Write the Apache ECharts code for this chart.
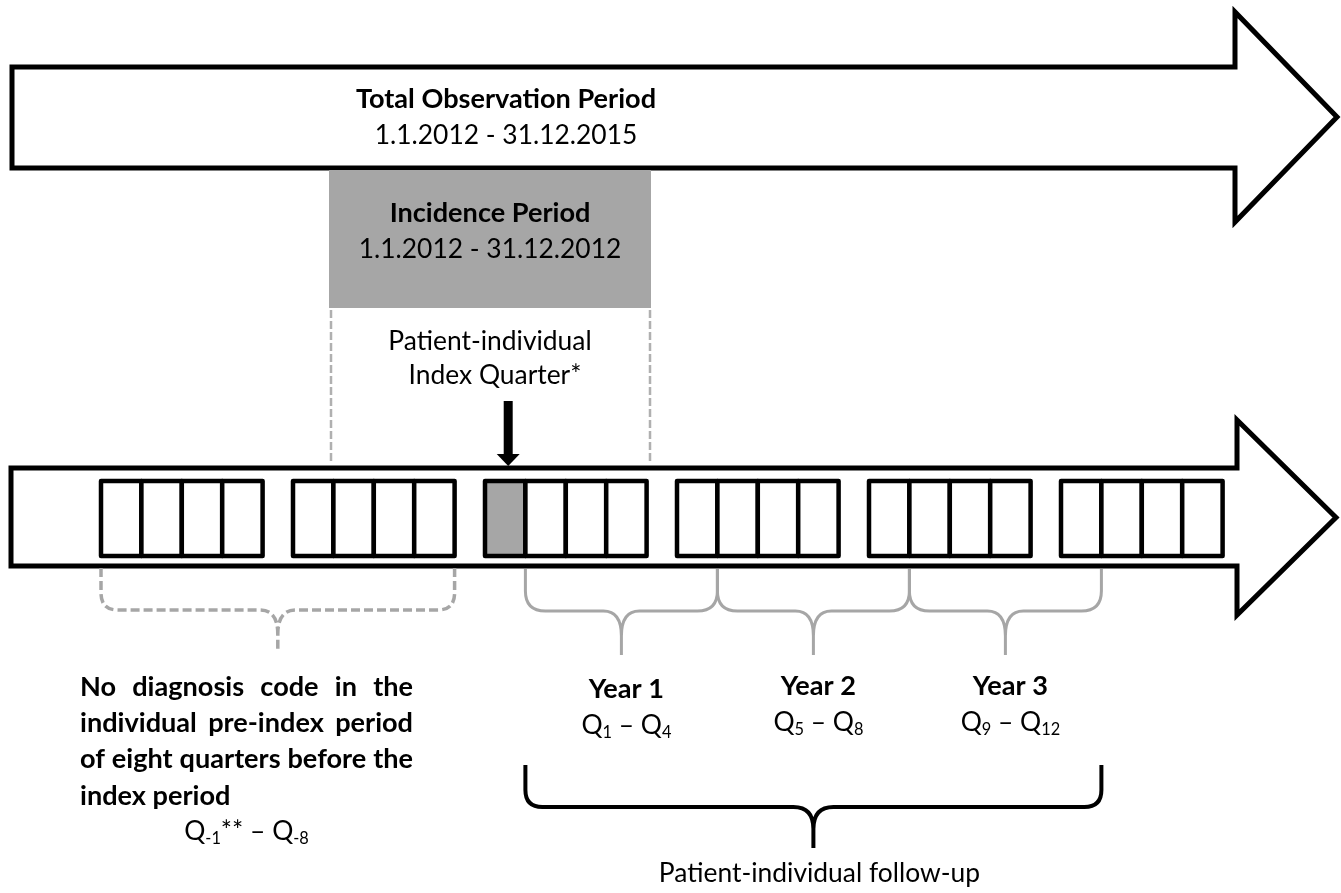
<!DOCTYPE html>
<html><head><meta charset="utf-8">
<script src="https://cdn.jsdelivr.net/npm/echarts@6/dist/echarts.min.js"></script>
<style>html,body{margin:0;padding:0;background:#fff}#main{width:1341px;height:893px}</style>
</head><body><div id="main"></div>
<script>
// ---------------- data ----------------
const timelines = ['Total Observation Period', 'Patient-individual quarters'];
const observationText = ['Total Observation Period', '1.1.2012 - 31.12.2015'];
const incidenceText = ['Incidence Period', '1.1.2012 - 31.12.2012'];
const indexQuarterText = ['Patient-individual', 'Index Quarter*'];
const quarters = [-8,-7,-6,-5,-4,-3,-2,-1,0,1,2,3,4,5,6,7,8,9,10,11,12,13,14,15];
const indexQuarter = 0;
const preIndexRange = [-8, -1];
const yearNames = ['Year 1', 'Year 2', 'Year 3'];
const yearRanges = [[1, 4], [5, 8], [9, 12]];
const yearQuarterSubs = [['1', '4'], ['5', '8'], ['9', '12']];
const followUpRange = [1, 12];
const followUpText = 'Patient-individual follow-up';
const preIndexLines = ['No diagnosis code in the', 'individual pre-index period', 'of eight quarters before the', 'index period'];
const preIndexSubs = ['-1', '-8'];

// ---------------- layout (positions / sizes / styles) ----------------
const L = {
  topArrow: {x0: 12, y0: 67, y1: 168, xh: 1235, hy0: 12, hy1: 222, tip: 1337},
  botArrow: {x0: 11, y0: 468, y1: 566, xh: 1237, hy0: 420, hy1: 615, tip: 1336},
  incid: {x0: 329, x1: 651, y0: 170, y1: 308},
  dash: {y0: 310, y1: 464},
  q: {start: 101, pitch: 192, boxW: 40.4, y0: 481, y1: 556},
  brace: {top: 569, mid: 611, cusp: 636, bottom: 655, r: 20, rc: 18},
  preBrace: {top: 568, mid: 610, cusp: 634, bottom: 650, r: 17, rc: 18},
  bigBrace: {top: 765, mid: 807, cusp: 829, bottom: 848, r: 17, rc: 20},
  titleX: 506,
  preBlock: {x0: 80, w: 333, base: [697, 733, 769, 806], qBase: 841},
  gray: '#a6a6a6'
};
const FONT = 'Lato, "Open Sans", sans-serif';
const ctx = document.createElement('canvas').getContext('2d');
function tw(t, weight, size) { ctx.font = weight + ' ' + size + 'px ' + FONT; return ctx.measureText(t).width; }
const FB = (100 * 200 / tw('Incidence Period', 'bold', 100) + 100 * 333 / tw('of eight quarters before the', 'bold', 100)) / 2;
const FR = (100 * 258 / tw('1.1.2012 - 31.12.2012', 'normal', 100) + 100 * 327 / tw('Patient-individual follow-up', 'normal', 100)) / 2;
const K = 0.37;

function qLeft(q) { const k = q + 8; return L.q.start + Math.floor(k / 4) * L.q.pitch + (k % 4) * L.q.boxW; }
function qRight(q) { return qLeft(q) + L.q.boxW; }

function txt(P, text, x, base, fs, weight, align, extra) {
  const p = P(x, base - K * fs);
  const st = Object.assign({text: text, x: p[0], y: p[1], fill: '#000',
    fontSize: fs, fontFamily: FONT, fontWeight: weight, align: align || 'center', verticalAlign: 'middle'}, extra || {});
  return {type: 'text', style: st};
}
function subTxt(P, parts, x, base, fs, weight) {
  const s = parts.map(function (p) { return '{' + p[0] + '|' + p[1] + '}'; }).join('');
  return txt(P, s, x, base, fs, weight, 'center', {
    rich: {
      m: {fontSize: fs, lineHeight: fs * 1.2, fontFamily: FONT, fontWeight: weight, verticalAlign: 'middle'},
      s: {fontSize: fs * 0.62, lineHeight: fs * 0.72, fontFamily: FONT, fontWeight: weight, verticalAlign: 'bottom'}
    }
  });
}
function bracePath(P, x0, x1, b) {
  const cx = (x0 + x1) / 2;
  const pt = function (x, y) { const p = P(x, y); return p[0] + ' ' + p[1]; };
  return 'M' + pt(x0, b.top) + ' L' + pt(x0, b.mid - b.r) + ' Q' + pt(x0, b.mid) + ' ' + pt(x0 + b.r, b.mid) +
    ' L' + pt(cx - b.rc, b.mid) + ' Q' + pt(cx, b.mid) + ' ' + pt(cx, b.cusp) + ' L' + pt(cx, b.bottom) +
    ' M' + pt(x1, b.top) + ' L' + pt(x1, b.mid - b.r) + ' Q' + pt(x1, b.mid) + ' ' + pt(x1 - b.r, b.mid) +
    ' L' + pt(cx + b.rc, b.mid) + ' Q' + pt(cx, b.mid) + ' ' + pt(cx, b.cusp);
}

function mk(name, list, draw, z) {
  return {
    type: 'custom', name: name, coordinateSystem: 'cartesian2d', clip: false, silent: true, z: z,
    animation: false,
    data: list.map(function (d, i) { return [i, i]; }),
    renderItem: function (params, api) {
      const P = function (x, y) { return api.coord([x, y]); };
      return draw(params.dataIndex, P);
    }
  };
}

const series = [
  mk('timelines', timelines, function (i, P) {
    const a = i === 0 ? L.topArrow : L.botArrow;
    const pts = [[a.x0, a.y0], [a.xh, a.y0], [a.xh, a.hy0], [a.tip, (a.hy0 + a.hy1) / 2], [a.xh, a.hy1], [a.xh, a.y1], [a.x0, a.y1]]
      .map(function (p) { return P(p[0], p[1]); });
    return {type: 'polygon', shape: {points: pts}, style: {fill: '#fff', stroke: '#000', lineWidth: 5, lineJoin: 'miter'}};
  }, 1),
  mk('observation', observationText, function (i, P) {
    return txt(P, observationText[i], L.titleX, i === 0 ? 109 : 145, i === 0 ? FB : FR, i === 0 ? 'bold' : 'normal');
  }, 3),
  mk('incidence', [incidenceText[0]], function (i, P) {
    const b = L.incid, p0 = P(b.x0, b.y0), p1 = P(b.x1, b.y1);
    const cx = (b.x0 + b.x1) / 2;
    const children = [
      {type: 'rect', shape: {x: p0[0], y: p0[1], width: p1[0] - p0[0], height: p1[1] - p0[1]}, style: {fill: L.gray}},
      txt(P, incidenceText[0], cx, 223, FB, 'bold'),
      txt(P, incidenceText[1], cx, 259, FR, 'normal')
    ];
    [b.x0 + 2, b.x1 - 1].forEach(function (x) {
      const a = P(x, L.dash.y0), c = P(x, L.dash.y1);
      children.push({type: 'line', shape: {x1: a[0], y1: a[1], x2: c[0], y2: c[1]},
        style: {stroke: '#b0b0b0', lineWidth: 2.5, lineDash: [8, 3]}});
    });
    children.push(txt(P, indexQuarterText[0], cx, 351, FR, 'normal'));
    children.push(txt(P, indexQuarterText[1], cx + 5, 385, FR, 'normal'));
    return {type: 'group', children: children};
  }, 3),
  mk('indexArrow', [indexQuarter], function (i, P) {
    const cx = qLeft(indexQuarter) + L.q.boxW / 2 + 3;
    const s0 = P(cx - 4.5, 401), s1 = P(cx + 4.5, 455);
    const tri = [P(cx - 11.5, 454), P(cx + 11.5, 454), P(cx, 466)];
    return {type: 'group', children: [
      {type: 'rect', shape: {x: s0[0], y: s0[1], width: s1[0] - s0[0], height: s1[1] - s0[1]}, style: {fill: '#000'}},
      {type: 'polygon', shape: {points: tri}, style: {fill: '#000'}}
    ]};
  }, 4),
  mk('quarters', quarters, function (i, P) {
    const q = quarters[i];
    const p0 = P(qLeft(q), L.q.y0), p1 = P(qRight(q), L.q.y1);
    return {type: 'rect', shape: {x: p0[0], y: p0[1], width: p1[0] - p0[0], height: p1[1] - p0[1]},
      style: {fill: q === indexQuarter ? L.gray : '#fff', stroke: '#000', lineWidth: 4.5, lineJoin: 'round'}};
  }, 5),
  mk('preIndex', [preIndexRange], function (i, P) {
    const x0 = qLeft(preIndexRange[0]), x1 = qRight(preIndexRange[1]);
    const children = [{type: 'path', shape: {pathData: bracePath(P, x0, x1, L.preBrace)},
      style: {fill: null, stroke: L.gray, lineWidth: 3.5, lineDash: [9, 4]}}];
    const pb = L.preBlock;
    preIndexLines.forEach(function (line, li) {
      if (li < 3) {
        const words = line.split(' ');
        const ws = words.map(function (w) { return tw(w, 'bold', FB); });
        const sum = ws.reduce(function (a, b) { return a + b; }, 0);
        const gap = (pb.w - sum) / (words.length - 1);
        let x = pb.x0;
        words.forEach(function (w, wi) {
          children.push(txt(P, w, x, pb.base[li], FB, 'bold', 'left'));
          x += ws[wi] + gap;
        });
      } else {
        children.push(txt(P, line, pb.x0, pb.base[li], FB, 'bold', 'left'));
      }
    });
    children.push(subTxt(P, [['m', 'Q'], ['s', preIndexSubs[0]], ['m', '** – Q'], ['s', preIndexSubs[1]]],
      pb.x0 + pb.w / 2, pb.qBase, FR, 'normal'));
    return {type: 'group', children: children};
  }, 3),
  mk('years', yearNames, function (i, P) {
    const r = yearRanges[i];
    const x0 = qLeft(r[0]), x1 = qRight(r[1]), cx = (x0 + x1) / 2 + 5;
    return {type: 'group', children: [
      {type: 'path', shape: {pathData: bracePath(P, x0, x1, L.brace)}, style: {fill: null, stroke: L.gray, lineWidth: 3}},
      txt(P, yearNames[i], cx, i === 0 ? 699 : 696, FB, 'bold'),
      subTxt(P, [['m', 'Q'], ['s', yearQuarterSubs[i][0]], ['m', ' – Q'], ['s', yearQuarterSubs[i][1]]], cx, i === 0 ? 735 : 732, FR, 'normal')
    ]};
  }, 3),
  mk('followUp', [followUpText], function (i, P) {
    const x0 = qLeft(followUpRange[0]), x1 = qRight(followUpRange[1]);
    return {type: 'group', children: [
      {type: 'path', shape: {pathData: bracePath(P, x0, x1, L.bigBrace)}, style: {fill: null, stroke: '#000', lineWidth: 4}},
      txt(P, followUpText, (x0 + x1) / 2 + 6, 883, FR, 'normal')
    ]};
  }, 3)
];

const chart = echarts.init(document.getElementById('main'), null, {renderer: 'canvas'});
chart.setOption({
  animation: false,
  backgroundColor: '#fff',
  grid: {left: 0, right: 0, top: 0, bottom: 0, containLabel: false},
  xAxis: {type: 'value', min: 0, max: 1341, show: false},
  yAxis: {type: 'value', min: 0, max: 893, inverse: true, show: false},
  series: series
});
</script>
</body></html>
